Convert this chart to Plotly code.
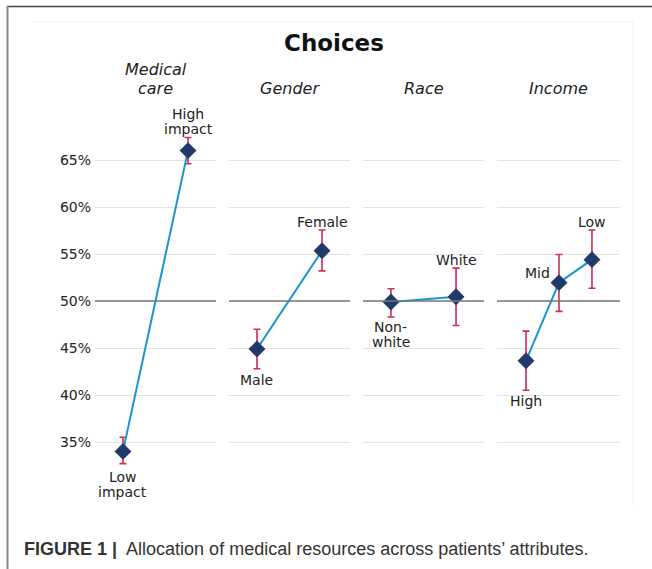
import plotly.graph_objects as go

# ---------------- data ----------------
panel_titles = ["Medical<br>care", "Gender", "Race", "Income"]

med_labels = ["Low<br>impact", "High<br>impact"]
med_mean = [34.0, 66.0]
med_upper = [35.5, 67.4]
med_lower = [32.7, 64.6]

gender_labels = ["Male", "Female"]
gender_mean = [44.9, 55.35]
gender_upper = [47.0, 57.55]
gender_lower = [42.8, 53.2]

race_labels = ["Non-<br>white", "White"]
race_mean = [49.9, 50.45]
race_upper = [51.3, 53.5]
race_lower = [48.3, 47.4]

income_labels = ["High", "Mid", "Low"]
income_mean = [43.65, 51.95, 54.4]
income_upper = [46.8, 54.95, 57.55]
income_lower = [40.5, 48.9, 51.35]

y_ticks = [35, 40, 45, 50, 55, 60, 65]
y_tick_text = ["35%", "40%", "45%", "50%", "55%", "60%", "65%"]
ref_line = 50

# ---------------- layout helpers ----------------
W, H = 652, 569
FONT = "DejaVu Sans"
def px_x(p):
    return p / W
def px_y(p):
    return 1 - p / H

# plot area pixel geometry
panel_px = [(95, 216), (229, 350), (363, 484), (497, 620)]
top_px, bot_px = 100, 505
# value scale: 65% at 160px, 35% at 442px
px_per_unit = (442 - 160) / 30.0
y50_px = 160 + 15 * px_per_unit
y_top = 50 + (y50_px - top_px) / px_per_unit
y_bot = 50 - (bot_px - y50_px) / px_per_unit

x_ranges = [[-0.43, 1.43], [-0.43, 1.43], [-0.43, 1.43], [-0.88, 2.85]]

panels = [
    (med_labels, med_mean, med_upper, med_lower),
    (gender_labels, gender_mean, gender_upper, gender_lower),
    (race_labels, race_mean, race_upper, race_lower),
    (income_labels, income_mean, income_upper, income_lower),
]

# label placement: (xanchor, yanchor, xshift, yshift) per point
label_pos = [
    [("center", "top", 0, -17), ("center", "bottom", 0, 13)],
    [("center", "top", 0, -22), ("center", "bottom", 0, 20)],
    [("center", "top", 0, -16), ("center", "bottom", 0, 28)],
    [("center", "top", 0, -31), ("right", "middle", -8, 10), ("center", "bottom", 0, 29)],
]
LABEL_LEAD = 15
HEADER_LEAD = 19

fig = go.Figure()
annotations = []
shapes = []

for i, (labels, mean, upper, lower) in enumerate(panels):
    xa = "x" if i == 0 else f"x{i+1}"
    ya = "y" if i == 0 else f"y{i+1}"
    xs = list(range(len(mean)))
    fig.add_trace(go.Scatter(
        x=xs, y=mean, mode="lines+markers",
        line=dict(color="#1b93cf", width=2),
        marker=dict(symbol="diamond", size=13, color="#22396b"),
        error_y=dict(type="data", symmetric=False,
                     array=[u - m for u, m in zip(upper, mean)],
                     arrayminus=[m - l for m, l in zip(mean, lower)],
                     color="#d42a55", thickness=1.6, width=3.5),
        xaxis=xa, yaxis=ya, showlegend=False, hoverinfo="skip",
    ))
    x0, x1 = panel_px[i]
    axis_key = "xaxis" if i == 0 else f"xaxis{i+1}"
    yaxis_key = "yaxis" if i == 0 else f"yaxis{i+1}"
    fig.layout[axis_key] = dict(domain=[px_x(x0), px_x(x1)], range=x_ranges[i],
                                showgrid=False, zeroline=False, showticklabels=False,
                                showline=False, fixedrange=True)
    fig.layout[yaxis_key] = dict(domain=[px_y(bot_px), px_y(top_px)], range=[y_bot, y_top],
                                 anchor=xa, tickmode="array", tickvals=y_ticks,
                                 ticktext=y_tick_text, showticklabels=(i == 0),
                                 showgrid=True, gridcolor="#e3e3e3", gridwidth=1,
                                 zeroline=False, showline=False, ticks="",
                                 ticklabelstandoff=3,
                                 tickfont=dict(family=FONT, size=14, color="#222"),
                                 fixedrange=True)
    # reference line at 50%
    shapes.append(dict(type="line", xref=f"{xa} domain", yref=ya, x0=0, x1=1,
                       y0=ref_line, y1=ref_line, line=dict(color="#777", width=1.3)))
    # panel header (one annotation per line for tight leading)
    hlines = panel_titles[i].split("<br>")
    for k, ln in enumerate(hlines):
        center_px = 88 - (len(hlines) - 1 - k) * HEADER_LEAD
        annotations.append(dict(text=f"<i>{ln}</i>", xref=f"{xa} domain", yref="paper",
                                x=0.5, y=px_y(center_px), xanchor="center", yanchor="middle",
                                borderpad=0, showarrow=False,
                                font=dict(family=FONT, size=16, color="#222")))
    # point labels
    for j, lab in enumerate(labels):
        xan, yan, xsh, ysh = label_pos[i][j]
        lines = lab.split("<br>")
        n = len(lines)
        for k, ln in enumerate(lines):
            if yan == "bottom":
                extra = (n - 1 - k) * LABEL_LEAD
            elif yan == "top":
                extra = -k * LABEL_LEAD
            else:
                extra = ((n - 1) / 2 - k) * LABEL_LEAD
            annotations.append(dict(text=ln, xref=xa, yref=ya, x=xs[j], y=mean[j],
                                    xanchor=xan, yanchor=yan, xshift=xsh, yshift=ysh + extra,
                                    showarrow=False, align="center", borderpad=0,
                                    font=dict(family=FONT, size=14, color="#222")))

# title
annotations.append(dict(text="<b>Choices</b>", xref="paper", yref="paper",
                        x=px_x(334), y=px_y(43), xanchor="center", yanchor="middle",
                        showarrow=False, font=dict(family=FONT, size=23, color="#111")))
# caption
annotations.append(dict(text="<b>FIGURE 1 |</b>  Allocation of medical resources across patients’ attributes.",
                        xref="paper", yref="paper", x=px_x(22), y=px_y(549),
                        xanchor="left", yanchor="middle", showarrow=False,
                        font=dict(family="Liberation Sans", size=18, color="#333")))

# frame lines
shapes.append(dict(type="line", xref="paper", yref="paper", x0=px_x(7), x1=1,
                   y0=px_y(6.5), y1=px_y(6.5), line=dict(color="#444", width=1.5)))
shapes.append(dict(type="line", xref="paper", yref="paper", x0=px_x(7.5), x1=px_x(7.5),
                   y0=px_y(6), y1=0, line=dict(color="#888", width=2)))
shapes.append(dict(type="line", xref="paper", yref="paper", x0=px_x(32), x1=px_x(633),
                   y0=px_y(22), y1=px_y(22), line=dict(color="#eef3ee", width=1)))
shapes.append(dict(type="line", xref="paper", yref="paper", x0=px_x(633), x1=px_x(633),
                   y0=px_y(22), y1=px_y(505), line=dict(color="#eef3ee", width=1)))

fig.update_layout(width=W, height=H, margin=dict(l=0, r=0, t=0, b=0),
                  paper_bgcolor="white", plot_bgcolor="white",
                  annotations=annotations, shapes=shapes, showlegend=False)

fig.write_html("out.html", config={"displayModeBar": False},
               post_script="document.body.style.margin='0';document.body.style.overflow='hidden';")
